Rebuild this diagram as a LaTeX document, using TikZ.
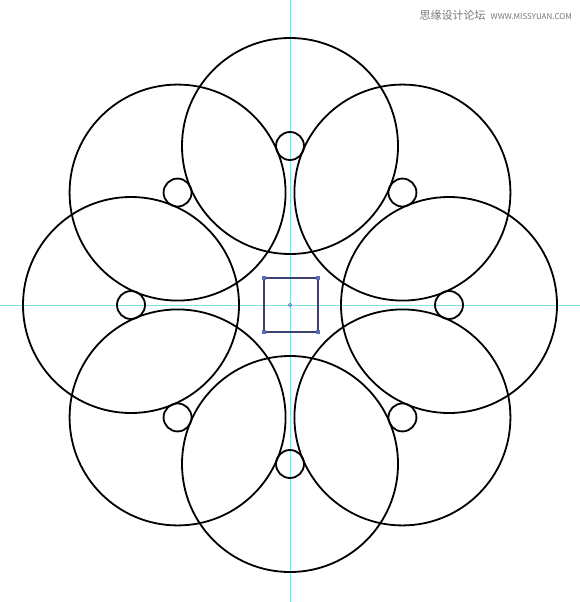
\documentclass[tikz,border=0pt]{standalone}
\usepackage{fontspec}
\usetikzlibrary{calc}
\newfontfamily\cjk{Noto Sans CJK SC}
\setmainfont{DejaVu Sans}
\definecolor{guide}{HTML}{7FE0E0}
\definecolor{sqcol}{HTML}{3C4170}
\definecolor{handle}{HTML}{5C6BB5}
\definecolor{wm}{HTML}{777777}
\tikzset{
  bigc/.style={draw=black, line width=1.8pt},
  smallc/.style={draw=black, line width=1.8pt},
  guideline/.style={draw=guide, line width=1pt},
  hnd/.style={fill=handle, minimum size=3.5pt, inner sep=0pt, draw=none}
}
\begin{document}
\begin{tikzpicture}[x=1pt,y=-1pt]
\useasboundingbox (0,0) rectangle (580,602);
\fill[white] (0,0) rectangle (580,602);
\coordinate (O) at (290,305);
\draw[guideline] (290,0) -- (290,602);
\draw[guideline] (0,305) -- (580,305);
\foreach \a in {0,45,...,315}{
  \draw[bigc] ($(O)+(\a:159)$) circle[radius=108];
  \draw[smallc] ($(O)+(\a:159)$) circle[radius=14];
}
\draw[sqcol, line width=1.8pt] (264,278) rectangle (318,332);
\foreach \p in {(264,278),(318,278),(264,332),(318,332)}
  \node[hnd] at \p {};
\draw[handle, line width=0.6pt] (O) circle[radius=1.6];
\node[anchor=east, text=wm, inner sep=0pt] (wmk) at (572,15) {\cjk\fontsize{11}{12}\selectfont 思缘设计论坛\hspace{5pt}\fontsize{8}{9}\selectfont WWW.MISSYUAN.COM};
\end{tikzpicture}
\end{document}
